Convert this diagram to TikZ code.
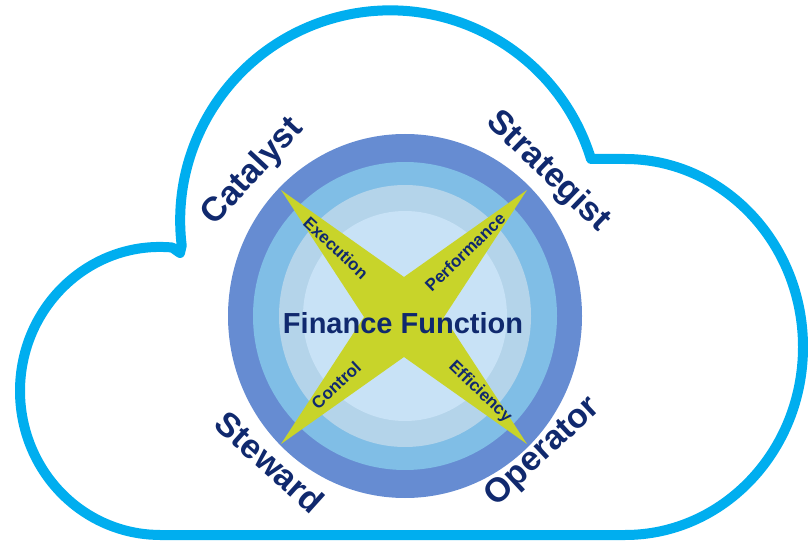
\documentclass[tikz,border=0pt]{standalone}
\usepackage{fontspec}
\setmainfont{Liberation Sans}
\definecolor{cloudc}{HTML}{00AEEF}
\definecolor{ringA}{HTML}{668CD2}
\definecolor{ringB}{HTML}{80BEE6}
\definecolor{ringC}{HTML}{B4D4EA}
\definecolor{ringD}{HTML}{C8E2F6}
\definecolor{starc}{HTML}{C8D42A}
\definecolor{navy}{HTML}{10296E}
\begin{document}
\begin{tikzpicture}[x=1pt,y=1pt,
  role/.style={font=\bfseries\fontsize{34}{34}\selectfont, text=navy, inner sep=0pt},
  arm/.style={font=\bfseries\fontsize{17}{17}\selectfont, text=navy, inner sep=0pt},
  title/.style={font=\bfseries\fontsize{29}{29}\selectfont, text=navy, inner sep=0pt}]
\useasboundingbox (0,0) rectangle (808,544);
% cloud
\draw[cloudc, line width=10pt, line join=round]
  (160,9) -- (625,9)
  arc[start angle=-90, end angle=90, x radius=178, y radius=188]
  -- (591,385)
  arc[start angle=17, end angle=186.9, radius=210]
  -- (180,291) -- (172.2,296.5)
  arc[start angle=85, end angle=270, x radius=140, y radius=144]
  -- cycle;
% rings
\fill[ringA] (405,228) ellipse[x radius=177, y radius=182];
\fill[ringB] (405,228) ellipse[x radius=152, y radius=154];
\fill[ringC] (405,228) ellipse[x radius=126, y radius=131];
\fill[ringD] (405,228) ellipse[x radius=102, y radius=105];
% star
\fill[starc] (281,354) -- (404,267) -- (527,354) -- (444,227) -- (527,100)
  -- (404,187) -- (281,100) -- (364,227) -- cycle;
% texts
\node[title, anchor=base] (ff) at (403,211) {Finance Function};
\node[role, rotate=47] (cat) at (253,372) {Catalyst};
\node[role, rotate=-44] (str) at (548,372) {Strategist};
\node[role, rotate=-42] (stw) at (270,82) {Steward};
\node[role, rotate=43] (op) at (543,92) {Operator};
\node[arm, rotate=-43] (ex) at (336,296) {Execution};
\node[arm, rotate=44] (pf) at (465,292) {Performance};
\node[arm, rotate=43] (ct) at (336,159) {Control};
\node[arm, rotate=-44] (ef) at (480,152) {Efficiency};
\end{tikzpicture}
\end{document}
